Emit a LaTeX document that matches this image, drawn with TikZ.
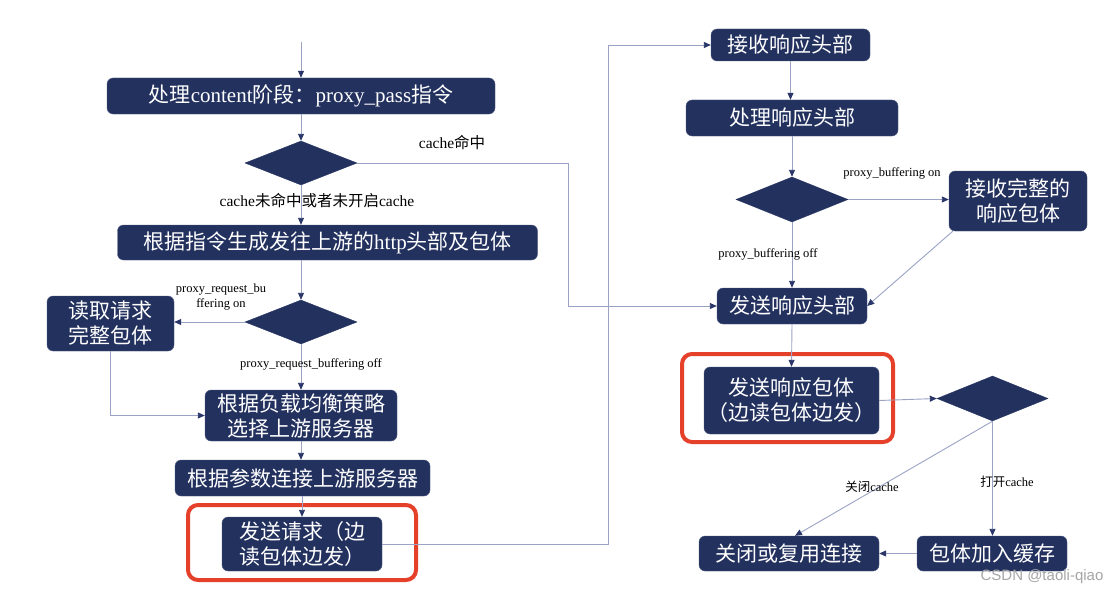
\documentclass[tikz,border=0pt]{standalone}
\usepackage{fontspec}
\setmainfont{Liberation Serif}
\newfontfamily\cjk{Noto Sans CJK SC}
\newfontfamily\wmfont{Liberation Sans}
\usetikzlibrary{shapes.geometric,arrows.meta,calc}
\definecolor{navy}{HTML}{23315F}
\definecolor{conn}{HTML}{9AA3C4}
\definecolor{tipc}{HTML}{2A3768}
\definecolor{hilite}{HTML}{E5402A}
\newcommand{\zh}[1]{{\cjk #1}}
\tikzset{
  box/.style={draw=navy!80!white, fill=navy, rounded corners=6pt, text=white, inner sep=0pt,
    align=center, font=\fontsize{21}{25}\selectfont\cjk},
  dia/.style={diamond, draw=navy, fill=navy, inner sep=0pt},
  conn/.style={draw=conn, line width=0.9pt, -{Triangle[length=7pt,width=6pt,color=tipc]}},
  lbl/.style={inner sep=0pt, align=center, font=\fontsize{12.5}{15}\selectfont},
  biglbl/.style={inner sep=0pt, font=\fontsize{15.5}{18}\selectfont},
  redbox/.style={draw=hilite, line width=4pt, rounded corners=10pt}
}
\begin{document}
\begin{tikzpicture}[x=1pt,y=-1pt]
\useasboundingbox[fill=white] (0,0) rectangle (1120,594);

% red highlight frames
\draw[redbox] (188,505) rectangle (416,580);
\draw[redbox] (682,354) rectangle (893,442);

% left column
\coordinate (start) at (301,42);
\node[box, minimum width=388, minimum height=36] (B1) at (301,96)
  {\zh{处理}{\rmfamily content}\zh{阶段：}{\rmfamily proxy\_pass}\zh{指令}};
\node[dia, minimum width=112, minimum height=44] (D1) at (301,163) {};
\node[box, minimum width=420, minimum height=35] (B2) at (327.5,242.5)
  {\zh{根据指令生成发往上游的}{\rmfamily http}\zh{头部及包体}};
\node[dia, minimum width=112, minimum height=44] (D2) at (301,322) {};
\node[box, minimum width=127, minimum height=55] (B3) at (110.5,323.5) {读取请求\\完整包体};
\node[box, minimum width=192, minimum height=51] (B4) at (301,415.5) {根据负载均衡策略\\选择上游服务器};
\node[box, minimum width=255, minimum height=36] (B5) at (302.5,478) {根据参数连接上游服务器};
\node[box, minimum width=160, minimum height=54] (B6) at (302,544) {发送请求（边\\读包体边发）};

% right column
\node[box, minimum width=159, minimum height=32] (R1) at (790.5,45) {接收响应头部};
\node[box, minimum width=212, minimum height=36] (R2) at (792,118) {处理响应头部};
\node[dia, minimum width=112, minimum height=45] (D3) at (792,199.5) {};
\node[box, minimum width=138, minimum height=60] (R3) at (1018,201) {接收完整的\\响应包体};
\node[box, minimum width=150, minimum height=36] (R4) at (792,306) {发送响应头部};
\node[box, minimum width=175, minimum height=67] (R5) at (791.5,400.5) {发送响应包体\\（边读包体边发）};
\node[dia, minimum width=111, minimum height=45] (D4) at (992.5,398.5) {};
\node[box, minimum width=180, minimum height=35] (R6) at (789,553.5) {关闭或复用连接};
\node[box, minimum width=150, minimum height=35] (R7) at (992,553.5) {包体加入缓存};

\coordinate (hitx) at (568,163);
\coordinate (sendx) at (608,544);

% connectors left
\draw[conn] (start) -- (B1.north);
\draw[conn] (B1.south) -- (D1.north);
\draw[conn] (D1.east) -- (hitx) |- (R4.west);
\draw[conn] (D1.south) -- (D1.south |- B2.north);
\draw[conn] (D2.north |- B2.south) -- (D2.north);
\draw[conn] (D2.west) -- (D2.west -| B3.east);
\draw[conn] (D2.south) -- (B4.north);
\draw[conn] (B3.south) |- (B4.west);
\draw[conn] (B4.south) -- (B4.south |- B5.north);
\draw[conn] (B5.south -| B6.north) -- (B6.north);
\draw[conn] (B6.east) -- (sendx) |- (R1.west);

% connectors right
\draw[conn] (R1.south) -- (R1.south |- R2.north);
\draw[conn] (R2.south) -- (D3.north);
\draw[conn] (D3.east) -- (D3.east -| R3.west);
\draw[conn] (D3.south) -- (R4.north);
\draw[conn] ($(R3.south west)+(4,0)$) -- (R4.east);
\draw[conn] (R4.south) -- (R5.north);
\draw[conn] (R5.east) -- (D4.west);
\draw[conn] (D4.south) -- (D4.south |- R7.north);
\draw[conn] (D4.south) -- ($(R6.north)+(6,0)$);
\draw[conn] (R7.west) -- (R6.east);

% labels
\node[biglbl] (l1) at (452,143) {cache\zh{命中}};
\node[biglbl] (l2) at (317,201) {cache\zh{未命中或者未开启}cache};
\node[lbl] (l3) at (221,297) {proxy\_request\_bu\\ffering on};
\node[lbl] (l4) at (311,364) {proxy\_request\_buffering off};
\node[lbl] (l5) at (892,173) {proxy\_buffering on};
\node[lbl] (l6) at (768,254) {proxy\_buffering off};
\node[lbl] (l7) at (872,487) {\zh{关闭}cache};
\node[lbl] (l8) at (1007,482) {\zh{打开}cache};
\node[inner sep=0pt, text=black!35, font=\fontsize{15}{18}\selectfont\wmfont] (wm) at (1042,577) {CSDN @taoli-qiao};
\end{tikzpicture}
\end{document}
